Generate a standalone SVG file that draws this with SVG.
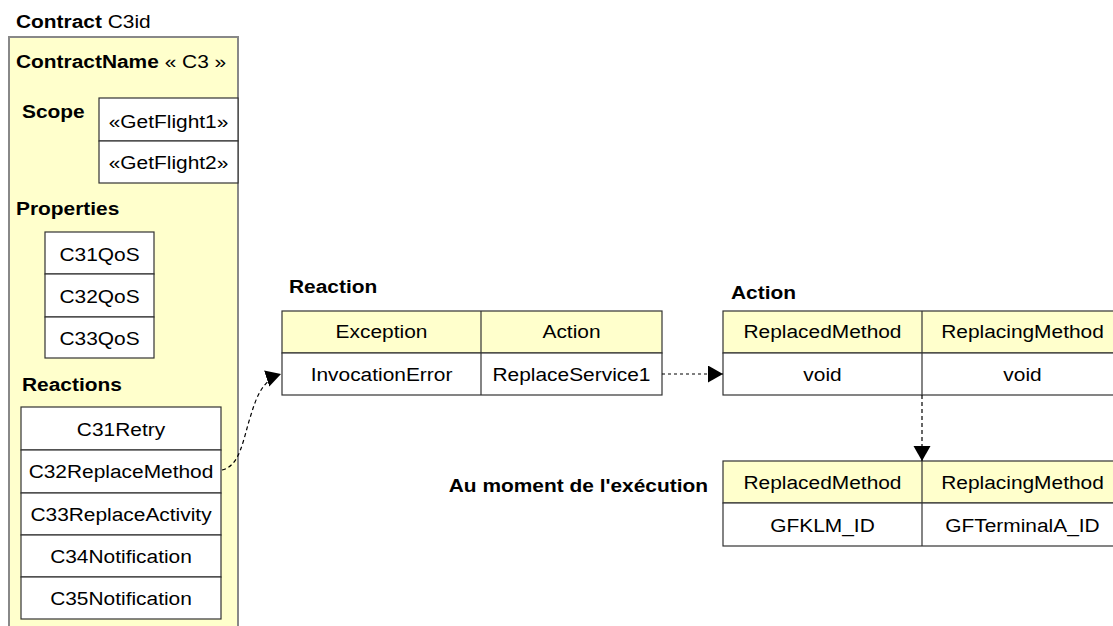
<svg xmlns="http://www.w3.org/2000/svg" width="1113" height="626" viewBox="0 0 1113 626">
<style>
text{font-family:"Liberation Sans",Arial,sans-serif;font-size:19px;fill:#000}
.b{font-weight:bold}
.c{text-anchor:middle}
.e{text-anchor:end}
.cell{fill:#fff;stroke:#333;stroke-width:1.2}
.hdr{fill:#ffffcc;stroke:#333;stroke-width:1.2}
.div{stroke:#333;stroke-width:1.2}
.conn{fill:none;stroke:#000;stroke-width:1.2}
</style>
<defs>
<marker id="arr" markerUnits="userSpaceOnUse" markerWidth="16" markerHeight="18" refX="15" refY="8.5" orient="auto">
<path d="M0,0 L15,8.5 L0,17 z" fill="#000"/>
</marker>
</defs>
<rect width="1113" height="626" fill="#fff"/>

<g id="contract">
<text transform="translate(16,28) scale(1.1,1)"><tspan class="b">Contract</tspan>  C3id</text>
<rect x="9" y="37" width="229" height="600" fill="#ffffcc" stroke="#888" stroke-width="2"/>
<text transform="translate(16,68) scale(1.1,1)"><tspan class="b">ContractName</tspan> « C3 »</text>
</g>

<g id="scope">
<text class="b" transform="translate(22,118) scale(1.1,1)">Scope</text>
<rect class="cell" x="99" y="98" width="139" height="43"/>
<rect class="cell" x="99" y="141" width="139" height="42"/>
<text class="c" transform="translate(168.5,128) scale(1.1,1)">«GetFlight1»</text>
<text class="c" transform="translate(168.5,169) scale(1.1,1)">«GetFlight2»</text>
</g>

<g id="properties">
<text class="b" transform="translate(16,215) scale(1.1,1)">Properties</text>
<rect class="cell" x="45" y="232" width="109" height="42"/>
<rect class="cell" x="45" y="274" width="109" height="43"/>
<rect class="cell" x="45" y="317" width="109" height="41"/>
<text class="c" transform="translate(99.5,261) scale(1.1,1)">C31QoS</text>
<text class="c" transform="translate(99.5,303) scale(1.1,1)">C32QoS</text>
<text class="c" transform="translate(99.5,345) scale(1.1,1)">C33QoS</text>
</g>

<g id="reactions">
<text class="b" transform="translate(22,391) scale(1.1,1)">Reactions</text>
<rect class="cell" x="21" y="407" width="200" height="43"/>
<rect class="cell" x="21" y="450" width="200" height="43"/>
<rect class="cell" x="21" y="493" width="200" height="42"/>
<rect class="cell" x="21" y="535" width="200" height="42"/>
<rect class="cell" x="21" y="577" width="200" height="42"/>
<text class="c" transform="translate(121,436) scale(1.1,1)">C31Retry</text>
<text class="c" transform="translate(121,478) scale(1.1,1)">C32ReplaceMethod</text>
<text class="c" transform="translate(121,521) scale(1.1,1)">C33ReplaceActivity</text>
<text class="c" transform="translate(121,563) scale(1.1,1)">C34Notification</text>
<text class="c" transform="translate(121,605) scale(1.1,1)">C35Notification</text>
</g>

<g id="reaction">
<text class="b" transform="translate(289,293) scale(1.1,1)">Reaction</text>
<rect class="hdr" x="282" y="311" width="380" height="42"/>
<rect class="cell" x="282" y="353" width="380" height="42"/>
<line class="div" x1="481" y1="311" x2="481" y2="395"/>
<text class="c" transform="translate(381.5,338) scale(1.1,1)">Exception</text>
<text class="c" transform="translate(571.5,338) scale(1.1,1)">Action</text>
<text class="c" transform="translate(381.5,381) scale(1.1,1)">InvocationError</text>
<text class="c" transform="translate(571.5,381) scale(1.1,1)">ReplaceService1</text>
</g>

<g id="action">
<text class="b" transform="translate(731,299) scale(1.1,1)">Action</text>
<rect class="hdr" x="723" y="311" width="400" height="42"/>
<rect class="cell" x="723" y="353" width="400" height="42"/>
<line class="div" x1="922" y1="311" x2="922" y2="395"/>
<text class="c" transform="translate(822.5,338) scale(1.1,1)">ReplacedMethod</text>
<text class="c" transform="translate(1022.5,338) scale(1.1,1)">ReplacingMethod</text>
<text class="c" transform="translate(822.5,381) scale(1.1,1)">void</text>
<text class="c" transform="translate(1022.5,381) scale(1.1,1)">void</text>
</g>

<g id="runtime">
<text class="b e" transform="translate(708,492) scale(1.1,1)">Au moment de l'exécution</text>
<rect class="hdr" x="723" y="461" width="400" height="42"/>
<rect class="cell" x="723" y="503" width="400" height="43"/>
<line class="div" x1="922" y1="461" x2="922" y2="546"/>
<text class="c" transform="translate(822.5,489) scale(1.1,1)">ReplacedMethod</text>
<text class="c" transform="translate(1022.5,489) scale(1.1,1)">ReplacingMethod</text>
<text class="c" transform="translate(822.5,532) scale(1.1,1)">GFKLM_ID</text>
<text class="c" transform="translate(1022.5,532) scale(1.1,1)">GFTerminalA_ID</text>
</g>

<g id="connectors">
<path class="conn" d="M222,470 C240,466 243,440 250,418 C256,398 262,380 281,374" stroke-dasharray="4,3" marker-end="url(#arr)"/>
<path class="conn" d="M662,374 L723,374" stroke-dasharray="3,3" marker-end="url(#arr)"/>
<path class="conn" d="M922,395 L922,461" stroke-dasharray="4,3" marker-end="url(#arr)"/>
</g>
</svg>
